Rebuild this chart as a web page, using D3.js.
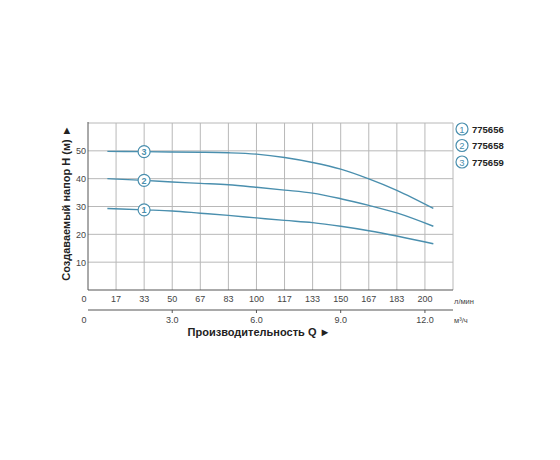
<!DOCTYPE html>
<html>
<head>
<meta charset="utf-8">
<script src="https://cdn.jsdelivr.net/npm/d3@7"></script>
<style>
  body { margin: 0; background: #fff; }
  text { font-family: "Liberation Sans", Arial, sans-serif; }
</style>
</head>
<body>
<svg id="chart" width="560" height="460"></svg>
<script>
// flow in l/min, head in m
const flowTicks = [0, 16.667, 33.333, 50, 66.667, 83.333, 100, 116.667, 133.333, 150, 166.667, 183.333, 200];
const flowLabels = ["0", "17", "33", "50", "67", "83", "100", "117", "133", "150", "167", "183", "200"];
const m3Ticks = [0, 3, 6, 9, 12];
const m3Labels = ["0", "3.0", "6.0", "9.0", "12.0"];
const headTicks = [10, 20, 30, 40, 50];

const models = ["775656", "775658", "775659"];
const curveFlow = [11.5, 33.3, 50, 66.7, 83.3, 100, 116.7, 133.3, 150, 166.7, 183.3, 205];
const head1 = [29.3, 28.8, 28.4, 27.6, 26.8, 25.9, 25.0, 24.2, 22.9, 21.3, 19.4, 16.6];
const head2 = [40.0, 39.4, 38.8, 38.3, 37.8, 36.9, 35.9, 34.8, 32.8, 30.4, 27.7, 22.9];
const head3 = [49.8, 49.7, 49.6, 49.5, 49.3, 48.8, 47.6, 45.8, 43.4, 39.9, 35.8, 29.3];
const heads = [head1, head2, head3];
const markerFlow = 33.3;

const lineColor = "#4a8fae";

const svg = d3.select("#chart");
const pLeft = 88, pRight = 453, pTop = 123, pBottom = 290;

const x = d3.scaleLinear().domain([0, 216.667]).range([pLeft, pRight]);
const y = d3.scaleLinear().domain([0, 60]).range([pBottom, pTop]);
const xm = d3.scaleLinear().domain([0, 216.667 * 0.06]).range([pLeft, pRight]);

// grid
svg.append("g")
    .selectAll("line")
    .data(flowTicks.slice(1).concat([216.667]))
    .enter()
    .append("line")
    .attr("x1", d => x(d)).attr("x2", d => x(d))
    .attr("y1", pTop).attr("y2", pBottom)
    .attr("stroke", "#b8b8b8")
    .attr("stroke-width", 1);

svg.append("g")
    .selectAll("line")
    .data(headTicks.concat([60]))
    .enter()
    .append("line")
    .attr("x1", pLeft).attr("x2", pRight)
    .attr("y1", d => y(d)).attr("y2", d => y(d))
    .attr("stroke", "#b8b8b8")
    .attr("stroke-width", 1);

// frame
svg.append("line").attr("x1", pLeft).attr("x2", pLeft).attr("y1", pTop - 1).attr("y2", pBottom)
    .attr("stroke", "#555").attr("stroke-width", 1);
svg.append("line").attr("x1", pLeft).attr("x2", pRight).attr("y1", pBottom).attr("y2", pBottom)
    .attr("stroke", "#555").attr("stroke-width", 1);

// y tick labels
svg.append("g")
    .selectAll("text")
    .data(headTicks)
    .enter()
    .append("text")
    .attr("x", pLeft - 2)
    .attr("y", d => y(d) + 3.5)
    .attr("text-anchor", "end")
    .attr("font-size", 9)
    .attr("fill", "#444")
    .text(d => d);

// flow labels (l/min)
svg.append("g")
    .selectAll("text")
    .data(flowTicks)
    .enter()
    .append("text")
    .attr("x", (d, i) => i === 0 ? x(d) - 4 : x(d))
    .attr("y", 302)
    .attr("text-anchor", "middle")
    .attr("font-size", 9)
    .attr("fill", "#444")
    .text((d, i) => flowLabels[i]);

svg.append("text").attr("x", 454).attr("y", 304)
    .attr("font-size", 7.5).attr("fill", "#444").text("л/мин");

// m3/h axis
const m3Axis = svg.append("g").attr("transform", "translate(0,310)");
m3Axis.append("line").attr("x1", pLeft).attr("x2", pRight).attr("y1", 0).attr("y2", 0)
    .attr("stroke", "#555");
m3Axis.selectAll("line.tick")
    .data(m3Ticks.slice(1))
    .enter()
    .append("line")
    .attr("class", "tick")
    .attr("x1", d => xm(d)).attr("x2", d => xm(d))
    .attr("y1", 0).attr("y2", 3)
    .attr("stroke", "#555");
m3Axis.selectAll("text")
    .data(m3Ticks)
    .enter()
    .append("text")
    .attr("x", (d, i) => i === 0 ? xm(d) - 4 : xm(d))
    .attr("y", 13)
    .attr("text-anchor", "middle")
    .attr("font-size", 9)
    .attr("fill", "#444")
    .text((d, i) => m3Labels[i]);
svg.append("text").attr("x", 454).attr("y", 323)
    .attr("font-size", 7.5).attr("fill", "#444").text("м³/ч");

// axis titles
svg.append("text")
    .attr("x", 259).attr("y", 336)
    .attr("text-anchor", "middle")
    .attr("font-size", 11).attr("font-weight", "bold").attr("fill", "#222")
    .text("Производительность Q  ►");

svg.append("text")
    .attr("transform", "translate(70,203) rotate(-90)")
    .attr("text-anchor", "middle")
    .attr("font-size", 11).attr("font-weight", "bold").attr("fill", "#222")
    .text("Создаваемый напор H (м)  ►");

// curves
const line = d3.line()
    .x(d => x(d.q))
    .y(d => y(d.h))
    .curve(d3.curveMonotoneX);

heads.forEach((h, k) => {
    const data = curveFlow.map((q, i) => ({ q, h: h[i] }));
    svg.append("path")
        .datum(data)
        .attr("fill", "none")
        .attr("stroke", lineColor)
        .attr("stroke-width", 1.4)
        .attr("d", line);

    const hm = h[curveFlow.indexOf(markerFlow)];
    svg.append("circle")
        .attr("cx", x(markerFlow)).attr("cy", y(hm)).attr("r", 6)
        .attr("fill", "#fff").attr("stroke", lineColor).attr("stroke-width", 1.2);
    svg.append("text")
        .attr("x", x(markerFlow)).attr("y", y(hm) + 3.5)
        .attr("text-anchor", "middle")
        .attr("font-size", 9).attr("font-weight", "bold").attr("fill", lineColor)
        .text(k + 1);
});

// legend
const legend = svg.append("g");
models.forEach((m, i) => {
    const ly = 129 + i * 16.5;
    legend.append("circle")
        .attr("cx", 462).attr("cy", ly).attr("r", 6)
        .attr("fill", "#fff").attr("stroke", lineColor).attr("stroke-width", 1.2);
    legend.append("text")
        .attr("x", 462).attr("y", ly + 3.5)
        .attr("text-anchor", "middle")
        .attr("font-size", 9.5).attr("fill", lineColor)
        .text(i + 1);
    legend.append("text")
        .attr("x", 472).attr("y", ly + 3.5)
        .attr("font-size", 9.5).attr("font-weight", "bold").attr("fill", "#222")
        .text(m);
});
</script>
</body>
</html>
